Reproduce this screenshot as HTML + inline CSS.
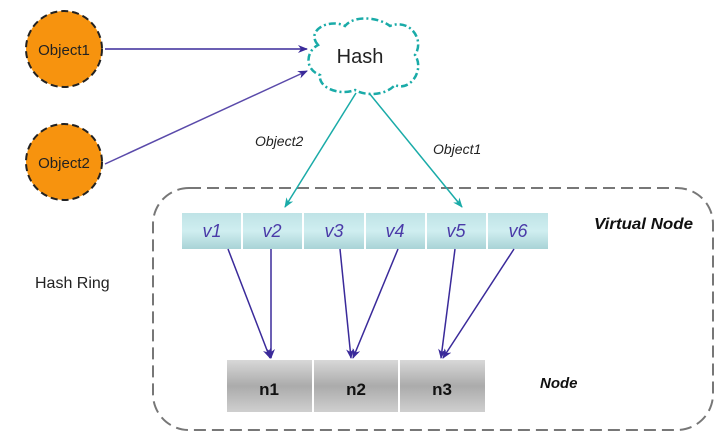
<!DOCTYPE html>
<html><head><style>
body{margin:0;background:#fff;width:718px;height:439px;overflow:hidden}
svg{display:block}
text{font-family:"Liberation Sans",sans-serif}
</style></head><body>
<svg width="718" height="439" viewBox="0 0 718 439">
<defs>
<marker id="ap" markerWidth="10" markerHeight="8" refX="9" refY="4" orient="auto" markerUnits="userSpaceOnUse"><path d="M0,0 L10,4 L0,8 L3,4z" fill="#3a2a9a"/></marker>
<marker id="at" markerWidth="10" markerHeight="8" refX="9" refY="4" orient="auto" markerUnits="userSpaceOnUse"><path d="M0,0 L10,4 L0,8 L3,4z" fill="#1aaba8"/></marker>
<linearGradient id="gv" x1="0" y1="0" x2="0" y2="1"><stop offset="0" stop-color="#bfe3e6"/><stop offset="0.5" stop-color="#cfeef0"/><stop offset="1" stop-color="#a9d3d6"/></linearGradient>
<linearGradient id="gn" x1="0" y1="0" x2="0" y2="1"><stop offset="0" stop-color="#d8d8d8"/><stop offset="0.5" stop-color="#ababab"/><stop offset="1" stop-color="#cfcfcf"/></linearGradient>
</defs>
<rect x="153" y="188" width="560" height="242" rx="36" fill="none" stroke="#777" stroke-width="2" stroke-dasharray="12,6"/>
<circle cx="64" cy="49" r="38" fill="#f7930e" stroke="#222" stroke-width="2" stroke-dasharray="7,4"/>
<circle cx="64" cy="162" r="38" fill="#f7930e" stroke="#222" stroke-width="2" stroke-dasharray="7,4"/>
<text x="64" y="55" font-size="15" text-anchor="middle" fill="#222">Object1</text>
<text x="64" y="168" font-size="15" text-anchor="middle" fill="#222">Object2</text>
<line x1="105" y1="49" x2="307" y2="49" stroke="#3a2a9a" stroke-width="1.5" marker-end="url(#ap)"/>
<line x1="105" y1="164" x2="307" y2="71" stroke="#5a4aaa" stroke-width="1.5" marker-end="url(#ap)"/>
<path d="M318,45 C305,30 330,18 345,26 C355,14 380,18 390,26 C410,18 425,40 415,55 C425,70 410,92 395,85 C385,96 365,96 355,90 C340,96 318,88 320,75 C305,70 305,52 318,45z" fill="#fff" stroke="#1aaba8" stroke-width="2.5" stroke-dasharray="7,3,2,3"/>
<text x="360" y="63" font-size="20" text-anchor="middle" fill="#222">Hash</text>
<line x1="356" y1="93" x2="285" y2="207" stroke="#1aaba8" stroke-width="1.5" marker-end="url(#at)"/>
<line x1="369" y1="93" x2="462" y2="207" stroke="#1aaba8" stroke-width="1.5" marker-end="url(#at)"/>
<text x="255" y="146" font-size="14" font-style="italic" fill="#222">Object2</text>
<text x="433" y="154" font-size="14" font-style="italic" fill="#222">Object1</text>
<text x="35" y="288" font-size="16" fill="#222">Hash Ring</text>
<g fill="url(#gv)">
<rect x="182" y="213" width="59" height="36"/><rect x="243" y="213" width="59" height="36"/><rect x="304" y="213" width="60" height="36"/><rect x="366" y="213" width="59" height="36"/><rect x="427" y="213" width="59" height="36"/><rect x="488" y="213" width="60" height="36"/>
</g>
<g font-size="18" font-style="italic" fill="#4a3aa8" text-anchor="middle">
<text x="212" y="237">v1</text><text x="272" y="237">v2</text><text x="334" y="237">v3</text><text x="395" y="237">v4</text><text x="456" y="237">v5</text><text x="518" y="237">v6</text>
</g>
<text x="594" y="229" font-size="16" font-weight="bold" font-style="italic" fill="#111" textLength="99" lengthAdjust="spacingAndGlyphs">Virtual Node</text>
<g fill="url(#gn)">
<rect x="227" y="360" width="85" height="52"/><rect x="314" y="360" width="84" height="52"/><rect x="400" y="360" width="85" height="52"/>
</g>
<g font-size="17" font-weight="bold" fill="#111" text-anchor="middle">
<text x="269" y="395">n1</text><text x="356" y="395">n2</text><text x="442" y="395">n3</text>
</g>
<text x="540" y="388" font-size="15" font-weight="bold" font-style="italic" fill="#111">Node</text>
<g stroke="#3a2a9a" stroke-width="1.5" marker-end="url(#ap)">
<line x1="228" y1="249" x2="270" y2="358"/>
<line x1="271" y1="249" x2="271" y2="358"/>
<line x1="340" y1="249" x2="351" y2="358"/>
<line x1="398" y1="249" x2="353" y2="358"/>
<line x1="455" y1="249" x2="441" y2="358"/>
<line x1="514" y1="249" x2="443" y2="358"/>
</g>
</svg>
</body></html>
